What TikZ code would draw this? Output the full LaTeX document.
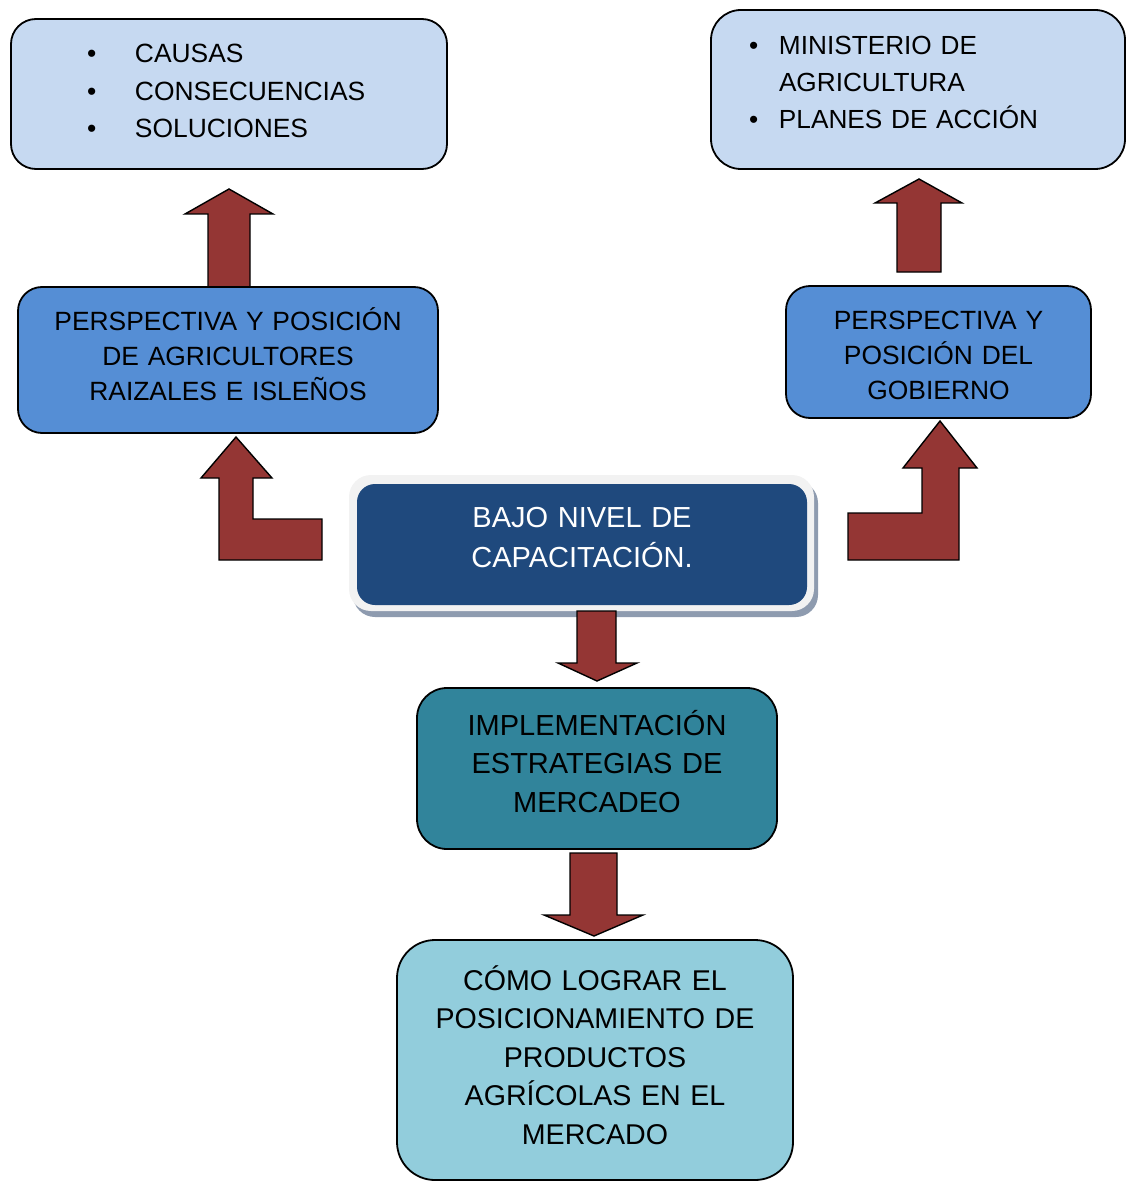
\documentclass[tikz,border=0pt]{standalone}
\usepackage{fontspec}
\setmainfont{Liberation Sans}
\definecolor{lightbox}{HTML}{C6D9F1}
\definecolor{midbox}{HTML}{558ED5}
\definecolor{darkbox}{HTML}{1F497D}
\definecolor{glowbox}{HTML}{F2F2F2}
\definecolor{shadowbox}{HTML}{8E9BAF}
\definecolor{implbox}{HTML}{31849B}
\definecolor{botbox}{HTML}{92CDDC}
\definecolor{arrowred}{HTML}{943634}
\begin{document}
\begin{tikzpicture}[x=0.5pt,y=-0.5pt,
  box/.style={draw=black, line width=0.9pt, inner sep=0pt, outer sep=0pt},
  plain/.style={inner sep=0pt, outer sep=0pt},
  blockarrow/.style={fill=arrowred, draw=black, line width=0.7pt, line join=miter},
  txt/.style={inner sep=0pt, outer sep=0pt, align=center, anchor=base},
  ltxt/.style={inner sep=0pt, outer sep=0pt, align=left, anchor=base west, text width=210pt}
]
\useasboundingbox (0,0) rectangle (1126,1182);

% ---- block arrows behind boxes ----
\draw[blockarrow] (208,287) -- (208,214) -- (185,214) -- (229,189) -- (273,214) -- (250,214) -- (250,287) -- cycle;
\draw[blockarrow] (897,272) -- (897,203) -- (875,203) -- (919,179) -- (962,203) -- (941,203) -- (941,272) -- cycle;
\draw[blockarrow] (219,560) -- (219,478) -- (201,478) -- (236,437) -- (272,478) -- (253,478) -- (253,519) -- (322,519) -- (322,560) -- cycle;
\draw[blockarrow] (848,513) -- (922,513) -- (922,468) -- (903,468) -- (940,421) -- (977,468) -- (959,468) -- (959,560) -- (848,560) -- cycle;

% ---- boxes ----
\node[box, fill=lightbox, rounded corners=12.5pt, minimum width=218pt, minimum height=75pt] (tl) at (229,94) {};
\node[box, fill=lightbox, rounded corners=15pt, minimum width=207pt, minimum height=79.5pt] (tr) at (918,89.5) {};
\node[box, fill=midbox, rounded corners=12pt, minimum width=210pt, minimum height=73pt] (lm) at (228,360) {};
\node[box, fill=midbox, rounded corners=12pt, minimum width=152.5pt, minimum height=66pt] (rm) at (938.5,352) {};

\node[plain, fill=shadowbox, rounded corners=11pt, minimum width=232.5pt, minimum height=68pt] (ctrshadow) at (585.5,549) {};
\node[plain, fill=glowbox, rounded corners=11pt, minimum width=232.5pt, minimum height=68pt] (ctrglow) at (581.5,543) {};
\node[plain, fill=darkbox, rounded corners=9pt, minimum width=225pt, minimum height=60.5pt] (ctr) at (582,544.5) {};

\node[box, fill=implbox, rounded corners=15pt, minimum width=180pt, minimum height=80.5pt] (impl) at (597,768.5) {};
\node[box, fill=botbox, rounded corners=19pt, minimum width=198pt, minimum height=120pt] (bot) at (595,1060) {};

% ---- down arrows ----
\draw[blockarrow] (577,611) -- (577,663) -- (558,663) -- (597,681) -- (637,663) -- (616,663) -- (616,611) -- cycle;
\draw[blockarrow] (570,853) -- (570,915) -- (544,915) -- (594,936) -- (643,915) -- (617,915) -- (617,853) -- cycle;

% ---- texts ----
\node[ltxt, font=\fontsize{13.2pt}{18.75pt}\selectfont] (tltext) at (87,63)
  {\makebox[24pt][l]{\textbullet}CAUSAS\\
   \makebox[24pt][l]{\textbullet}CONSECUENCIAS\\
   \makebox[24pt][l]{\textbullet}SOLUCIONES};
\node[ltxt, text width=180pt, font=\fontsize{13.1pt}{18.5pt}\selectfont] (trtext) at (749,54.5)
  {\makebox[15pt][l]{\textbullet}MINISTERIO DE\\
   \hspace*{15pt}AGRICULTURA\\
   \makebox[15pt][l]{\textbullet}PLANES DE ACCIÓN};
\node[txt, text width=210pt, font=\fontsize{13.2pt}{17.5pt}\selectfont] (lmtext) at (228,330)
  {PERSPECTIVA Y POSICIÓN\\ DE AGRICULTORES\\ RAIZALES E ISLEÑOS};
\node[txt, text width=152pt, font=\fontsize{13.2pt}{17.5pt}\selectfont] (rmtext) at (938.5,329)
  {PERSPECTIVA Y\\ POSICIÓN DEL\\ GOBIERNO};
\node[txt, text width=225pt, text=white, font=\fontsize{14.5pt}{20pt}\selectfont] (ctrtext) at (582,527)
  {BAJO NIVEL DE\\ CAPACITACIÓN.};
\node[txt, text width=180pt, font=\fontsize{14.5pt}{19.25pt}\selectfont] (impltext) at (597,735)
  {IMPLEMENTACIÓN\\ ESTRATEGIAS DE\\ MERCADEO};
\node[txt, text width=198pt, font=\fontsize{14.3pt}{19.25pt}\selectfont] (bottext) at (595,990)
  {CÓMO LOGRAR EL\\ POSICIONAMIENTO DE\\ PRODUCTOS\\ AGRÍCOLAS EN EL\\ MERCADO};
\end{tikzpicture}
\end{document}
